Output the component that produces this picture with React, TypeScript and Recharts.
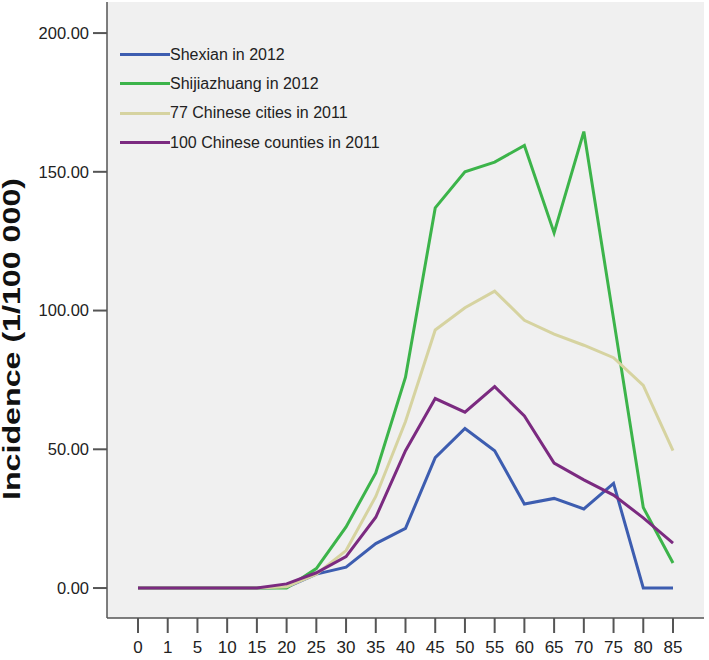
import { LineChart, Line, XAxis, YAxis, CartesianGrid, Legend } from "recharts";

// age groups (years)
const ages = ["0", "1", "5", "10", "15", "20", "25", "30", "35", "40", "45", "50", "55", "60", "65", "70", "75", "80", "85"];

// incidence per 100 000
const shexian2012 = [0, 0, 0, 0, 0, 0.3, 5, 7.5, 16, 21.5, 47, 57.5, 49.5, 30.3, 32.3, 28.5, 37.7, 0, 0];
const shijiazhuang2012 = [0, 0, 0, 0, 0, 0, 7, 22, 41.5, 76, 137, 150, 153.5, 159.5, 128, 164.5, 97, 29, 9];
const cities2011 = [0, 0, 0, 0, 0, 0.5, 5, 13.5, 33, 60, 93, 101, 107, 96.5, 91.5, 87.5, 83, 73, 49.5];
const counties2011 = [0, 0, 0, 0, 0, 1.5, 5.5, 11.3, 25.5, 49.5, 68.3, 63.4, 72.6, 62, 45, 39, 33.5, 25.3, 16.2];

const yTicks = [0, 50, 100, 150, 200];

const SERIES = [
  { key: "shexian", name: "Shexian in 2012", color: "#3d5db0" },
  { key: "shijiazhuang", name: "Shijiazhuang in 2012", color: "#3cb44a" },
  { key: "cities", name: "77 Chinese cities in 2011", color: "#d6d3a0" },
  { key: "counties", name: "100 Chinese counties in 2011", color: "#7b2a80" },
];

const data = ages.map((age, i) => ({
  age,
  shexian: shexian2012[i],
  shijiazhuang: shijiazhuang2012[i],
  cities: cities2011[i],
  counties: counties2011[i],
}));

const FONT = "'Liberation Sans', Arial, sans-serif";
const FRAME = "#555";

function YLabel() {
  return (
    <text
      x={12}
      y={339}
      transform="rotate(-90 12 339)"
      textAnchor="middle"
      dominantBaseline="central"
      fontFamily={FONT}
      fontWeight="bold"
      fontSize={23}
      fill="#111"
      textLength={322}
      lengthAdjust="spacingAndGlyphs"
    >
      Incidence (1/100 000)
    </text>
  );
}

function LegendBox() {
  return (
    <div style={{ fontFamily: FONT, fontSize: 16, color: "#222" }}>
      {SERIES.map((s) => (
        <div key={s.key} style={{ display: "flex", alignItems: "center", height: 29.3 }}>
          <span style={{ display: "inline-block", width: 50, height: 3, background: s.color }} />
          <span style={{ whiteSpace: "nowrap" }}>{s.name}</span>
        </div>
      ))}
    </div>
  );
}

export default function App() {
  return (
    <div style={{ position: "absolute", left: 0, top: 0, background: "#fff" }}>
      <LineChart
        width={709}
        height={660}
        data={data}
        margin={{ top: 2, right: 5, left: 0, bottom: 0 }}
        style={{ fontFamily: FONT }}
      >
        <CartesianGrid horizontal={false} vertical={false} fill="#f0f0f0" />
        <XAxis
          dataKey="age"
          height={42}
          padding={{ left: 31, right: 31 }}
          interval={0}
          tickSize={15}
          tickMargin={8}
          tick={{ fontSize: 17, fill: "#222" }}
          tickLine={{ stroke: FRAME, strokeWidth: 2 }}
          axisLine={{ stroke: FRAME, strokeWidth: 1.5 }}
        />
        <XAxis
          xAxisId="top"
          dataKey="age"
          orientation="top"
          height={0}
          tick={false}
          tickLine={false}
          axisLine={{ stroke: FRAME, strokeWidth: 1.5 }}
        />
        <YAxis
          width={107}
          domain={[-10.8, 211.2]}
          ticks={yTicks}
          tickFormatter={(v: number) => v.toFixed(2)}
          tickSize={14}
          tickMargin={4}
          tick={{ fontSize: 16.5, fill: "#222" }}
          tickLine={{ stroke: FRAME, strokeWidth: 2 }}
          axisLine={{ stroke: FRAME, strokeWidth: 1.5 }}
          label={<YLabel />}
        />
        <YAxis
          yAxisId="right"
          orientation="right"
          width={0}
          tick={false}
          tickLine={false}
          axisLine={{ stroke: FRAME, strokeWidth: 1.5 }}
        />
        <Legend
          layout="horizontal"
          verticalAlign="middle"
          align="center"
          content={<LegendBox />}
          wrapperStyle={{ left: 120, top: 40, width: "auto", height: "auto" }}
        />
        {SERIES.map((s) => (
          <Line
            key={s.key}
            type="linear"
            dataKey={s.key}
            name={s.name}
            stroke={s.color}
            strokeWidth={3}
            dot={false}
            activeDot={false}
            isAnimationActive={false}
          />
        ))}
      </LineChart>
    </div>
  );
}
